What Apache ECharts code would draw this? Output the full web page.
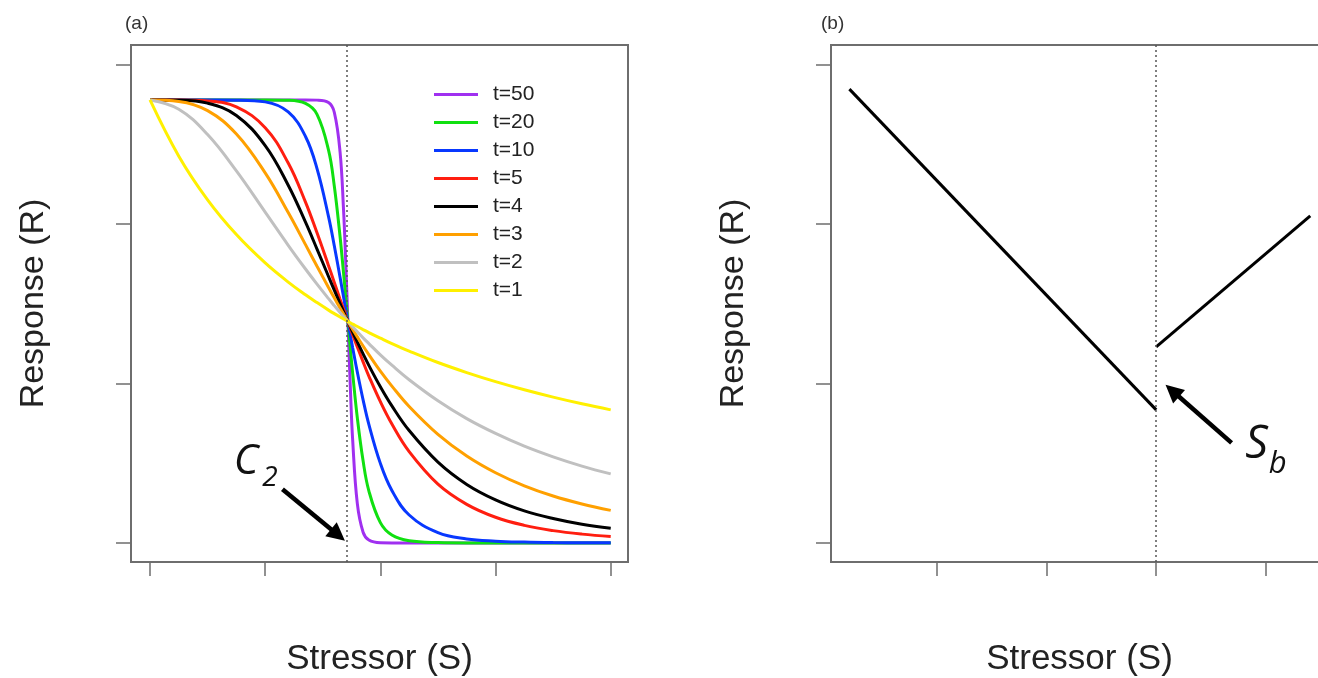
<!DOCTYPE html>
<html>
<head>
<meta charset="utf-8">
<title>Stressor response</title>
<script src="https://cdn.jsdelivr.net/npm/echarts@6.0.0/dist/echarts.min.js"></script>
<style>
html, body { margin: 0; padding: 0; background: #fff; overflow: hidden; }
body { width: 1318px; height: 678px; }
#main { width: 1340px; height: 678px; }
</style>
</head>
<body>
<div id="main"></div>
<script>
// panel (a): stressor values shared by every curve
var stress = [0, 0.25, 0.5, 0.75, 1.0, 1.2, 1.35, 1.45, 1.55, 1.6, 1.65, 1.68, 1.7, 1.718, 1.74, 1.76,
    1.8, 1.85, 1.9, 2.0, 2.1, 2.25, 2.5, 2.75, 3.0, 3.25, 3.5, 3.75, 4.0];

// response
var r50 = [2.78, 2.78, 2.78, 2.78, 2.78, 2.78, 2.78, 2.779, 2.764, 2.703, 2.454, 2.095, 1.748, 1.39, 0.962, 0.64,
    0.246, 0.067, 0.018, 0.001, 0, 0, 0, 0, 0, 0, 0, 0, 0];
var r20 = [2.78, 2.78, 2.78, 2.78, 2.78, 2.778, 2.758, 2.69, 2.465, 2.24, 1.923, 1.696, 1.536, 1.39, 1.214, 1.061,
    0.785, 0.515, 0.327, 0.127, 0.049, 0.013, 0.002, 0, 0, 0, 0, 0, 0];
var r10 = [2.78, 2.78, 2.78, 2.779, 2.768, 2.705, 2.551, 2.349, 2.048, 1.865, 1.667, 1.545, 1.463, 1.39, 1.302, 1.223,
    1.072, 0.898, 0.744, 0.499, 0.329, 0.175, 0.064, 0.025, 0.011, 0.005, 0.002, 0.001, 0.001];
var r5 = [2.78, 2.78, 2.774, 2.737, 2.606, 2.384, 2.139, 1.946, 1.74, 1.635, 1.53, 1.468, 1.427, 1.39, 1.346, 1.306,
    1.229, 1.136, 1.047, 0.886, 0.746, 0.573, 0.369, 0.242, 0.161, 0.11, 0.077, 0.055, 0.04];
var r4 = [2.78, 2.779, 2.76, 2.683, 2.494, 2.245, 2.013, 1.844, 1.672, 1.586, 1.502, 1.452, 1.419, 1.39, 1.355, 1.323,
    1.261, 1.186, 1.114, 0.98, 0.86, 0.705, 0.507, 0.367, 0.27, 0.201, 0.153, 0.117, 0.092];
var r3 = [2.78, 2.771, 2.713, 2.566, 2.322, 2.073, 1.872, 1.736, 1.603, 1.538, 1.474, 1.437, 1.412, 1.39, 1.363, 1.34,
    1.293, 1.236, 1.182, 1.078, 0.984, 0.856, 0.681, 0.545, 0.44, 0.358, 0.294, 0.244, 0.204];
var r2 = [2.78, 2.722, 2.563, 2.335, 2.076, 1.868, 1.719, 1.624, 1.533, 1.489, 1.446, 1.421, 1.405, 1.39, 1.372, 1.356,
    1.325, 1.287, 1.251, 1.18, 1.115, 1.024, 0.892, 0.78, 0.687, 0.607, 0.54, 0.482, 0.433];
var r1 = [2.78, 2.427, 2.153, 1.935, 1.757, 1.637, 1.557, 1.508, 1.461, 1.439, 1.418, 1.406, 1.397, 1.39, 1.381, 1.373,
    1.358, 1.339, 1.32, 1.285, 1.251, 1.204, 1.132, 1.069, 1.012, 0.961, 0.915, 0.873, 0.835];

var tNames = ['t=50', 't=20', 't=10', 't=5', 't=4', 't=3', 't=2', 't=1'];
var tColors = ['#A030F0', '#10E010', '#0838FF', '#FF1E10', '#000000', '#FFA000', '#C0C0C0', '#FFF000'];
var tValues = [r50, r20, r10, r5, r4, r3, r2, r1];
var c2 = 1.71;

// panel (b): two straight pieces either side of the break
var lineBelow = [[0.2, 2.848], [3.0, 0.835]];
var lineAbove = [[3.0, 1.23], [4.406, 2.053]];
var sb = 3.0;

// tick positions
var xTicksA = [0, 1, 2, 3, 4];
var xTicksB = [1, 2, 3, 4];
var yTicks = [0, 1, 2, 3];

var axisGrey = '#6e6e6e';
var textFont = 'Liberation Sans';

function pairs(xs, ys) {
    return xs.map(function(s, i) { return [s, ys[i]]; });
}

function xAxisCfg(idx, min, max, ticks) {
    return {
        type: 'value', gridIndex: idx, min: min, max: max,
        name: 'Stressor (S)', nameLocation: 'middle', nameGap: 80,
        nameTextStyle: { fontSize: 35, color: '#222', fontFamily: textFont },
        axisLine: { show: false, onZero: false },
        axisTick: { show: true, length: 14, customValues: ticks, lineStyle: { color: axisGrey, width: 1.5 } },
        axisLabel: { show: false },
        splitLine: { show: false }
    };
}

function yAxisCfg(idx) {
    return {
        type: 'value', gridIndex: idx, min: -0.12, max: 3.125,
        name: 'Response (R)', nameLocation: 'middle', nameGap: 80,
        nameTextStyle: { fontSize: 34, color: '#222', fontFamily: textFont },
        axisLine: { show: false, onZero: false },
        axisTick: { show: true, length: 15, customValues: yTicks, lineStyle: { color: axisGrey, width: 1.5 } },
        axisLabel: { show: false },
        splitLine: { show: false }
    };
}

function italicLabel(txt, size) {
    return {
        show: true, position: 'inside', formatter: txt,
        fontSize: size, fontStyle: 'italic', fontFamily: 'Open Sans', color: '#111'
    };
}

function arrowMarks(xLine, from, to) {
    return {
        silent: true, animation: false, label: { show: false },
        symbol: ['none', 'none'],
        data: [
            { xAxis: xLine, lineStyle: { type: [2, 3], color: '#555', width: 1.5 } },
            [
                { coord: from, symbol: 'none' },
                { coord: to, symbol: 'triangle', symbolSize: 18 }
            ]
        ],
        lineStyle: { color: '#000', width: 4.5, type: 'solid' },
        itemStyle: { color: '#000' }
    };
}

function initChart() {
    var chart = echarts.init(document.getElementById('main'));

    var series = [];
    for (var i = 0; i < tNames.length; i++) {
        series.push({
            name: tNames[i],
            type: 'line',
            xAxisIndex: 0, yAxisIndex: 0,
            data: pairs(stress, tValues[i]),
            showSymbol: false,
            smooth: 0.4,
            lineStyle: { color: tColors[i], width: 3 },
            itemStyle: { color: tColors[i] }
        });
    }

    // dotted C2 line, arrow and label for panel (a)
    series.push({
        type: 'line', xAxisIndex: 0, yAxisIndex: 0, data: [],
        markLine: arrowMarks(c2, [1.15, 0.337], [1.632, 0.05]),
        markPoint: {
            silent: true, animation: false, symbolSize: 0,
            data: [
                { coord: [0.835, 0.505], label: italicLabel('C', 42) },
                { coord: [1.041, 0.408], label: italicLabel('2', 28) }
            ]
        }
    });

    // panel (b) lines
    series.push({
        type: 'line', xAxisIndex: 1, yAxisIndex: 1, data: lineBelow,
        showSymbol: false, lineStyle: { color: '#000', width: 3 }
    });
    series.push({
        type: 'line', xAxisIndex: 1, yAxisIndex: 1, data: lineAbove,
        showSymbol: false, lineStyle: { color: '#000', width: 3 },
        markLine: arrowMarks(sb, [3.688, 0.628], [3.147, 0.955]),
        markPoint: {
            silent: true, animation: false, symbolSize: 0,
            data: [
                { coord: [3.916, 0.612], label: italicLabel('S', 45) },
                { coord: [4.11, 0.496], label: italicLabel('b', 31) }
            ]
        }
    });

    var option = {
        animation: false,
        backgroundColor: '#fff',
        title: [
            { text: '(a)', left: 120, top: 9, textStyle: { fontSize: 19, fontWeight: 'normal', color: '#333', fontFamily: textFont } },
            { text: '(b)', left: 816, top: 9, textStyle: { fontSize: 19, fontWeight: 'normal', color: '#333', fontFamily: textFont } }
        ],
        legend: {
            data: tNames,
            orient: 'vertical',
            left: 429, top: 79,
            icon: 'rect',
            itemWidth: 44, itemHeight: 3, itemGap: 7,
            textStyle: { fontSize: 21, lineHeight: 21, color: '#222', fontFamily: textFont, padding: [0, 0, 0, 10] },
            selectedMode: false
        },
        grid: [
            { left: 131, top: 45, width: 497, height: 517, show: true, borderColor: axisGrey, borderWidth: 2, outerBoundsMode: 'none' },
            { left: 831, top: 45, width: 497, height: 517, show: true, borderColor: axisGrey, borderWidth: 2, outerBoundsMode: 'none' }
        ],
        xAxis: [xAxisCfg(0, -0.165, 4.15, xTicksA), xAxisCfg(1, 0.032, 4.568, xTicksB)],
        yAxis: [yAxisCfg(0), yAxisCfg(1)],
        series: series
    };
    chart.setOption(option);
}

initChart();
</script>
</body>
</html>
